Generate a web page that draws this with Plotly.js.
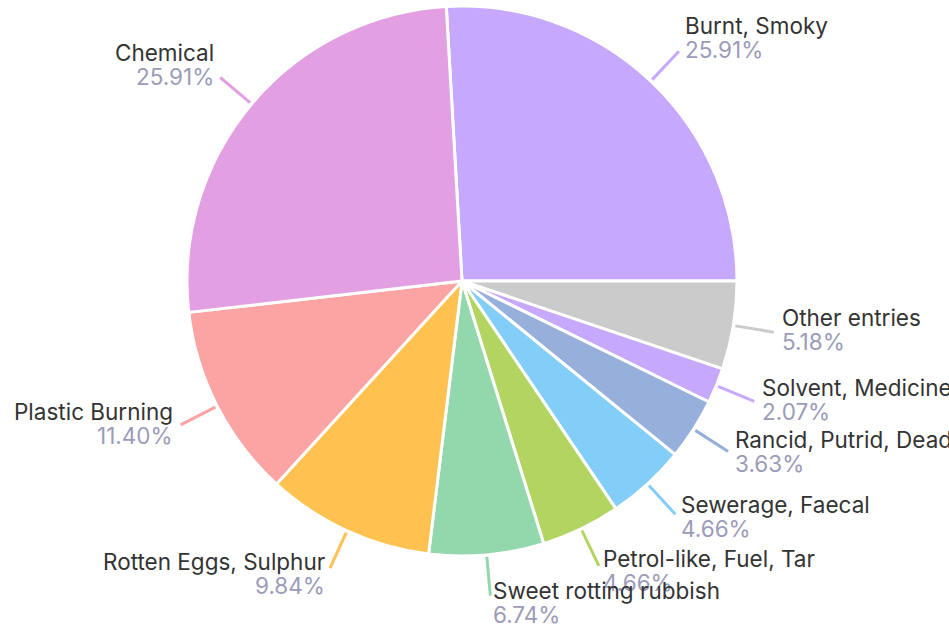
<!DOCTYPE html>
<html>
<head>
<meta charset="utf-8">
<script src="https://cdn.plot.ly/plotly-3.0.1.min.js"></script>
<style>html,body{margin:0;padding:0;background:#fff;}#chart{width:949px;height:626px;}</style>
</head>
<body>
<div id="chart"></div>
<script>
const labels = ["Burnt, Smoky","Other entries","Solvent, Medicine","Rancid, Putrid, Dead","Sewerage, Faecal","Petrol-like, Fuel, Tar","Sweet rotting rubbish","Rotten Eggs, Sulphur","Plastic Burning","Chemical"];
const values = [25.91, 5.18, 2.07, 3.63, 4.66, 4.66, 6.74, 9.84, 11.40, 25.91];
const colors = ["#c6a8fd","#cbcbcb","#c6a8fd","#97afdb","#83cdf9","#b2d461","#93d8ac","#ffc150","#fca3a3","#e2a0e3"];

const W = 949, H = 626;
const CX = 462, CY = 281, R = 275;
const total = values.reduce((a,b)=>a+b,0);
const rotation = 90 - values[0]/total*360;

const toPX = x => x / W;
const toPY = y => 1 - y / H;

const FONT = 'Inter, sans-serif';
const FS = 22.5;
const annotations = [];
const shapes = [];
let cum = 0;
values.forEach((v, i) => {
  const mid = (rotation + (cum + v/2)/total*360) * Math.PI/180;
  cum += v;
  const s = Math.sin(mid), c = Math.cos(mid);
  const x0 = CX + (R+2)*s, y0 = CY - (R+2)*c;
  const x1 = CX + (R+41)*s, y1 = CY - (R+41)*c;
  shapes.push({type:'line', xref:'paper', yref:'paper', x0:toPX(x0), y0:toPY(y0), x1:toPX(x1), y1:toPY(y1),
    line:{color:colors[i], width:3}});
  const right = s >= 0;
  const gap = 1 + 6*Math.abs(s);
  const shift = c > 0 ? -3 - 15*c : -3 + 10*c*c;
  const ty = y1 + shift;
  const tx = toPX(right ? x1+gap : x1-gap);
  const common = {xref:'paper', yref:'paper', x:tx, xanchor: right ? 'left' : 'right', yanchor:'middle',
    align: right ? 'left' : 'right', showarrow:false, borderpad:0};
  annotations.push(Object.assign({}, common, {y:toPY(ty-12), text:labels[i],
    font:{family:FONT, size:FS, color:'#333333'}}));
  annotations.push(Object.assign({}, common, {y:toPY(ty+12), text:v.toFixed(2)+'%',
    font:{family:FONT, size:FS, color:'#9b9bb9'}}));
});

const trace = {
  type:'pie', labels: labels, values: values, sort:false, direction:'clockwise', rotation: rotation,
  marker:{colors: colors, line:{color:'#ffffff', width:3}},
  textinfo:'none', hoverinfo:'label+percent',
  domain:{x:[toPX(CX-R), toPX(CX+R)], y:[toPY(CY+R), toPY(CY-R)]}
};

Plotly.newPlot('chart', [trace], {
  width:W, height:H, margin:{l:0,r:0,t:0,b:0}, showlegend:false,
  paper_bgcolor:'#ffffff', annotations: annotations, shapes: shapes
}, {displayModeBar:false});
</script>
</body>
</html>
